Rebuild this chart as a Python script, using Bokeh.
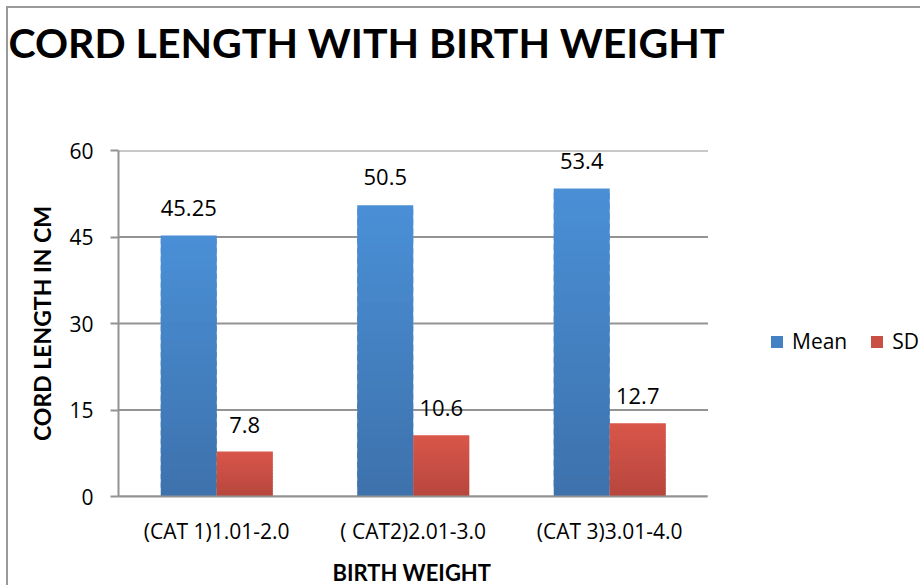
from bokeh.plotting import figure
from bokeh.models import ColumnDataSource, Range1d, FixedTicker, LabelSet, Legend, LegendItem, Title
from bokeh.core.properties import value
from bokeh.embed import file_html
from bokeh.resources import INLINE

categories = ["(CAT 1)1.01-2.0", "( CAT2)2.01-3.0", "(CAT 3)3.01-4.0"]
mean_values = [45.25, 50.5, 53.4]
sd_values = [7.8, 10.6, 12.7]
mean_labels = ["45.25", "50.5", "53.4"]
sd_labels = ["7.8", "10.6", "12.7"]
y_ticks = [0, 15, 30, 45, 60]

FONT = "Open Sans"
BFONT = "Lato"
GRID = "#939393"
BLUE_TOP, BLUE_BOT = (74, 143, 214), (61, 114, 172)
RED_TOP, RED_BOT = (217, 86, 74), (183, 70, 61)

N = len(categories)
centers = [i + 0.5 for i in range(N)]
W = 0.285
OFF = 0.1425
BANDS = 30

# canvas layout (pixels)
CANVAS_W, CANVAS_H = 912, 577
LEFT, TOP, BOTTOM = 110, 142, 89
PLOT_W = 588                      # width of the category area
FRAME_W = CANVAS_W - LEFT         # frame extends right to hold the legend


def hexcol(c):
    return "#%02x%02x%02x" % tuple(int(round(v)) for v in c)


def gradient_bars(xs, vals, top_c, bot_c):
    """Split each bar into stacked bands whose colour runs from bot_c to top_c."""
    x, b, t, col = [], [], [], []
    for xi, v in zip(xs, vals):
        step = v / BANDS
        for k in range(BANDS):
            f = (k + 0.5) / BANDS
            x.append(xi)
            b.append(step * k)
            t.append(min(v, step * (k + 1.6)))   # overlap the next band to hide seams
            col.append(hexcol([bc + (tc - bc) * f for tc, bc in zip(top_c, bot_c)]))
    return ColumnDataSource(dict(x=x, bottom=b, top=t, color=col))


x_mean = [c - OFF for c in centers]
x_sd = [c + OFF for c in centers]
src = ColumnDataSource(dict(x_mean=x_mean, x_sd=x_sd, mean=mean_values, sd=sd_values,
                            mean_lab=mean_labels, sd_lab=sd_labels))

p = figure(x_range=Range1d(0, N * FRAME_W / PLOT_W), y_range=Range1d(0, 60),
           width=CANVAS_W + 2, height=CANVAS_H + 2, output_backend="svg", toolbar_location=None,
           min_border_left=LEFT, min_border_right=0, min_border_top=TOP, min_border_bottom=BOTTOM,
           title="CORD LENGTH WITH BIRTH WEIGHT")
p.styles = {"border-left": "2px solid #9a9a9a", "border-top": "2px solid #9a9a9a",
            "box-sizing": "border-box", "margin-left": "6px", "margin-top": "6px"}

p.title.text_font = BFONT
p.title.text_font_style = "bold"
p.title.text_font_size = "41px"
p.title.text_color = "black"
p.title.align = "left"
p.title.offset = -LEFT
p.title.standoff = 10
p.title.padding = dict(left=0, right=0, top=0, bottom=79)

# horizontal grid lines limited to the category area
p.segment(x0=[0] * len(y_ticks), x1=[N] * len(y_ticks), y0=y_ticks, y1=y_ticks,
          line_color=GRID, line_width=2)

# bars with a vertical colour gradient (light at top, darker at bottom)
r1 = p.vbar(x="x", bottom="bottom", top="top", width=W, fill_color="color", line_color=None,
            source=gradient_bars(x_mean, mean_values, BLUE_TOP, BLUE_BOT))
r2 = p.vbar(x="x", bottom="bottom", top="top", width=W, fill_color="color", line_color=None,
            source=gradient_bars(x_sd, sd_values, RED_TOP, RED_BOT))

lab_style = dict(text_font=value(FONT), text_font_size=value("22px"), text_color="black",
                 text_align="center", text_baseline="alphabetic")
p.add_layout(LabelSet(x="x_mean", y="mean", text="mean_lab", y_offset=20, source=src, **lab_style))
p.add_layout(LabelSet(x="x_sd", y="sd", text="sd_lab", y_offset=19, source=src, **lab_style))

p.xgrid.grid_line_color = None
p.ygrid.grid_line_color = None
p.outline_line_color = None

for ax in (p.xaxis, p.yaxis):
    ax.axis_line_color = GRID
    ax.axis_line_width = 2
    ax.major_label_text_font = FONT
    ax.major_label_text_font_size = "21px"
    ax.major_label_text_color = "black"
    ax.axis_label_text_font = BFONT
    ax.axis_label_text_font_style = "bold"
    ax.axis_label_text_color = "black"
    ax.minor_tick_line_color = None

p.xaxis.ticker = FixedTicker(ticks=centers)
p.xaxis.major_label_overrides = {c: lab for c, lab in zip(centers, categories)}
p.xaxis.bounds = (0, N)
p.xaxis.major_tick_line_color = None
p.xaxis.major_label_standoff = 14

# x-axis title centred under the category area
p.add_layout(Title(text="BIRTH WEIGHT", align="left", offset=214, standoff=4,
                   padding=dict(left=0, right=0, top=7, bottom=0),
                   text_font=BFONT, text_font_style="bold", text_font_size="22px",
                   text_color="black"), "below")

p.yaxis.ticker = FixedTicker(ticks=y_ticks)
p.yaxis.major_tick_line_color = GRID
p.yaxis.major_tick_line_width = 2
p.yaxis.major_tick_out = 8
p.yaxis.major_tick_in = 0
p.yaxis.major_label_standoff = 17
p.yaxis.axis_label = "CORD LENGTH IN CM"
p.yaxis.axis_label_text_font_size = "23px"
p.yaxis.axis_label_standoff = 10

legend = Legend(items=[LegendItem(label="Mean", renderers=[r1], index=BANDS // 2),
                       LegendItem(label="SD", renderers=[r2], index=BANDS // 2)],
                orientation="horizontal", location=(PLOT_W + 63, 141),
                glyph_width=15, glyph_height=15, label_standoff=8, spacing=22,
                padding=0, margin=0, border_line_color=None, background_fill_alpha=0,
                label_text_font=FONT, label_text_font_size="21px", label_text_color="black")
p.add_layout(legend, "center")

open("out.html", "w").write(file_html(p, INLINE))
